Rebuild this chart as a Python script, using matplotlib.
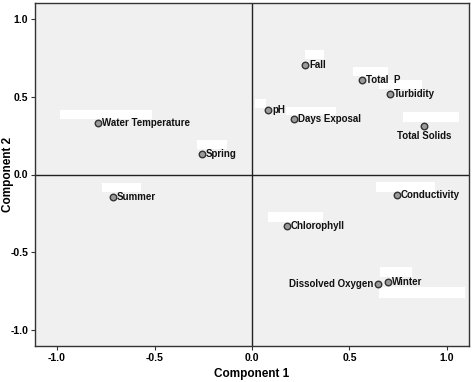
import matplotlib
matplotlib.use("Agg")
import matplotlib.pyplot as plt
from matplotlib.patches import Rectangle
from matplotlib.transforms import ScaledTranslation

labels = ["Water Temperature", "Spring", "Summer", "Fall", "Total  P", "Turbidity",
          "pH", "Days Exposal", "Total Solids", "Conductivity", "Chlorophyll",
          "Dissolved Oxygen", "Winter"]
comp1 = [-0.79, -0.256, -0.713, 0.272, 0.564, 0.708, 0.082, 0.215, 0.882, 0.744, 0.179, 0.646, 0.697]
comp2 = [0.33, 0.132, -0.145, 0.706, 0.61, 0.519, 0.416, 0.358, 0.313, -0.132, -0.332, -0.706, -0.694]
ticks = [-1.0, -0.5, 0.0, 0.5, 1.0]
tick_labels = ["-1.0", "-0.5", "0.0", "0.5", "1.0"]

# label placement (pixel offsets) and white box artifacts (pixel offsets: x0, x1, y0, y1, y down)
label_pos = {
    "Total Solids": ("center", "top", 0, 5),
    "Dissolved Oxygen": ("right", "center", -5, 0),
}
boxes = [(-38, 54, -13, -4), (-5, 25, -14, -5), (-11, 28, -14, -5), (0, 19, -15, -6),
         (-9, 26, -13, -4), (-11, 32, -14, -5), (-13, -2, -11, -2), (-8, 42, -12, -4),
         (-21, 35, -14, -4), (-21, 38, -13, -3), (-19, 36, -14, -4), (1, 87, 3, 14),
         (-8, 24, -15, -5)]

plt.rcParams['font.family'] = ['Liberation Sans', 'DejaVu Sans']
fig = plt.figure(figsize=(4.72, 3.82), dpi=100)
ax = fig.add_axes([35/472, 1-346/382, 434/472, 343/382])
ax.set_facecolor("#f0f0f0")
ax.set_xlim(-1.113, 1.113)
ax.set_ylim(-1.106, 1.106)
ax.axhline(0, color="#222222", lw=1.0, zorder=1)
ax.axvline(0, color="#222222", lw=1.0, zorder=1)

for (x, y, (bx0, bx1, by0, by1)) in zip(comp1, comp2, boxes):
    tr = fig.dpi_scale_trans + ScaledTranslation(x, y, ax.transData)
    ax.add_patch(Rectangle((bx0/100, -by1/100), (bx1-bx0)/100, (by1-by0)/100,
                           transform=tr, facecolor="white", edgecolor="none", zorder=2))

ax.scatter(comp1, comp2, s=22, facecolor="#9a9a9a", edgecolor="#333333", linewidths=1.0, zorder=4)
for lab, x, y in zip(labels, comp1, comp2):
    ha, va, dx, dy = label_pos.get(lab, ("left", "center", 4, 0))
    ax.annotate(lab, (x, y), xytext=(dx*0.72, -dy*0.72), textcoords="offset points",
                ha=ha, va=va, fontsize=7, fontweight="bold", color="#111111", zorder=5)

ax.set_xticks(ticks)
ax.set_xticklabels(tick_labels)
ax.set_yticks(ticks)
ax.set_yticklabels(tick_labels)
ax.tick_params(direction="out", length=3, width=0.8, color="#333333", labelsize=7.5, pad=2)
for t in ax.get_xticklabels() + ax.get_yticklabels():
    t.set_fontweight("bold")
for s in ax.spines.values():
    s.set_color("#333333")
    s.set_linewidth(1.0)
ax.set_xlabel("Component 1", fontsize=8.5, fontweight="bold")
ax.set_ylabel("Component 2", fontsize=8.5, fontweight="bold")
ax.xaxis.set_label_coords(0.5, -(374 - 346) / 343, transform=ax.transAxes)
ax.yaxis.set_label_coords(-(35 - 8) / 434, 0.5, transform=ax.transAxes)
ax.xaxis.label.set_va("center")
ax.yaxis.label.set_va("center")
fig.savefig("out.png", dpi=100)
